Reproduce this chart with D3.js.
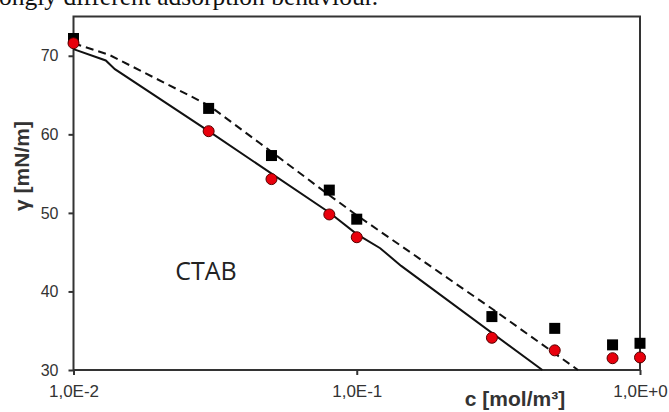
<!DOCTYPE html>
<html>
	<head>
		<title>CTAB surface tension</title>
		<meta charset='UTF-8' />
		<style>
			body {
				margin: 0;
				background: #ffffff;
			}
			svg {
				display: block;
			}
			.axis path, .axis line {
				fill: none;
				stroke: #333333;
				stroke-width: 2px;
			}
			.axis text {
				font-family: Arial, 'Liberation Sans', sans-serif;
				font-size: 16px;
				fill: #333333;
			}
			.x.axis text {
				font-size: 17px;
			}
			.title {
				font-family: Arial, 'Liberation Sans', sans-serif;
				font-size: 21px;
				font-weight: bold;
				fill: #333333;
			}
		</style>
	</head>

	<body>
	<script src='https://d3js.org/d3.v7.min.js'></script>

	<script>
	'use strict';

	// measured points
	const conc = [0.01, 0.03, 0.05, 0.08, 0.1, 0.3, 0.5, 0.8, 1.0];
	const squares = [72.2, 63.3, 57.3, 52.9, 49.2, 36.8, 35.3, 33.2, 33.4];
	const circles = [71.6, 60.4, 54.3, 49.8, 46.9, 34.1, 32.5, 31.5, 31.6];

	// model curves
	const solidC = [0.01, 0.013, 0.014, 0.03, 0.08, 0.1, 0.121, 0.1435, 0.452];
	const solidV = [70.85, 69.4, 68.3, 60.4, 50.05, 47.3, 45.5, 43.25, 30];
	const dashC = [0.01, 0.0134, 0.03, 0.0454, 0.08, 0.1, 0.303, 0.604];
	const dashV = [71.6, 70.1, 63.7, 58.9, 52.25, 49.7, 37.7, 30];

	const xTicks = [0.01, 0.1, 1];
	const xTickLabels = ['1,0E-2', '1,0E-1', '1,0E+0'];
	const yTicks = [30, 40, 50, 60, 70];

	const width = 669;
	const height = 412;
	const plot = {left: 73.5, right: 640, top: 16.5, bottom: 370};

	const svg = d3.select('body').append('svg')
		.attr('width', width)
		.attr('height', height);

	// cut-off line of the surrounding text
	svg.append('text')
		.attr('x', -1)
		.attr('y', 5)
		.style('font-family', "'Liberation Serif', 'Times New Roman', serif")
		.style('font-size', '25.5px')
		.style('fill', '#111')
		.text('ongly different adsorption behaviour.');

	const x = d3.scaleLog()
		.domain([0.01, 1])
		.range([plot.left, plot.right]);

	const y = d3.scaleLinear()
		.domain([30, 75])
		.range([plot.bottom, plot.top]);

	// frame
	svg.append('rect')
		.attr('x', plot.left)
		.attr('y', plot.top)
		.attr('width', plot.right - plot.left)
		.attr('height', plot.bottom - plot.top)
		.attr('fill', 'none')
		.attr('stroke', '#333')
		.attr('stroke-width', 2);

	// x axis
	svg.append('g')
		.attr('class', 'x axis')
		.attr('transform', 'translate(0,' + plot.bottom + ')')
		.call(d3.axisBottom(x)
			.tickValues(xTicks)
			.tickFormat(function(d, i) { return xTickLabels[i]; })
			.tickSize(5)
			.tickPadding(10))
		.call(function(g) { g.select('.domain').remove(); });

	// y axis
	svg.append('g')
		.attr('class', 'y axis')
		.attr('transform', 'translate(' + plot.left + ',0)')
		.call(d3.axisLeft(y)
			.tickValues(yTicks)
			.tickSize(5)
			.tickPadding(10))
		.call(function(g) { g.select('.domain').remove(); });

	// model lines
	const line = d3.line()
		.x(function(d) { return x(d[0]); })
		.y(function(d) { return y(d[1]); });

	svg.append('path')
		.datum(d3.zip(solidC, solidV))
		.attr('d', line)
		.attr('fill', 'none')
		.attr('stroke', '#111')
		.attr('stroke-width', 2);

	svg.append('path')
		.datum(d3.zip(dashC, dashV))
		.attr('d', line)
		.attr('fill', 'none')
		.attr('stroke', '#111')
		.attr('stroke-width', 2)
		.attr('stroke-dasharray', '8,5');

	// markers
	const sq = 11;
	svg.selectAll('rect.sq')
		.data(d3.zip(conc, squares))
		.enter().append('rect')
		.attr('class', 'sq')
		.attr('x', function(d) { return x(d[0]) - sq / 2; })
		.attr('y', function(d) { return y(d[1]) - sq / 2; })
		.attr('width', sq)
		.attr('height', sq)
		.attr('fill', '#000');

	svg.selectAll('circle')
		.data(d3.zip(conc, circles))
		.enter().append('circle')
		.attr('cx', function(d) { return x(d[0]); })
		.attr('cy', function(d) { return y(d[1]); })
		.attr('r', 5.5)
		.attr('fill', '#e8000c')
		.attr('stroke', '#550000')
		.attr('stroke-width', 1);

	// labels
	svg.append('text')
		.attr('x', 206)
		.attr('y', 280)
		.attr('text-anchor', 'middle')
		.style('font-family', "'Open Sans', sans-serif")
		.style('font-size', '25px')
		.style('fill', '#222')
		.text('CTAB');

	svg.append('text')
		.attr('class', 'title')
		.attr('x', 515)
		.attr('y', 406)
		.attr('text-anchor', 'middle')
		.text('c [mol/m³]');

	svg.append('text')
		.attr('class', 'title')
		.attr('transform', 'translate(29,166) rotate(-90)')
		.attr('text-anchor', 'middle')
		.text('γ [mN/m]');
	</script>
</body>
</html>
